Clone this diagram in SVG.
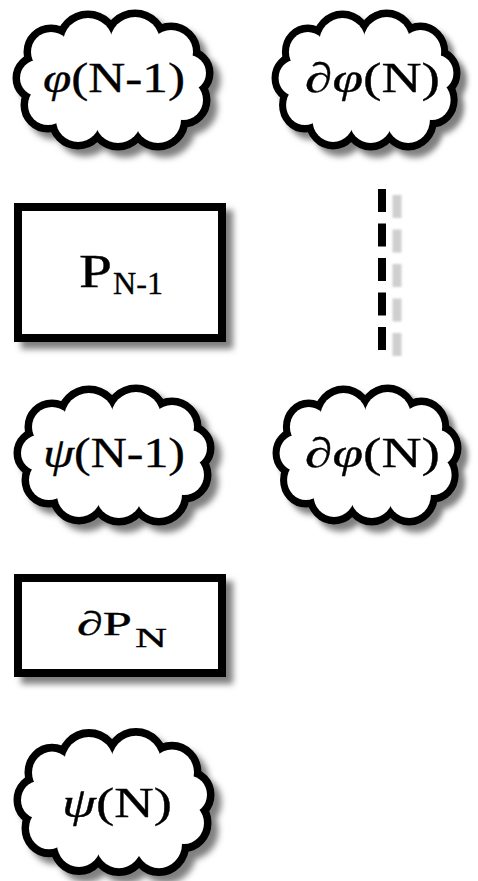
<svg xmlns="http://www.w3.org/2000/svg" xmlns:xlink="http://www.w3.org/1999/xlink" width="478" height="881" viewBox="0 0 478 881">
<style>
.cb circle{fill:none;stroke:#000;stroke-width:15}
.cw circle,.cw ellipse{fill:#fff;stroke:none}
.box{fill:#fff;stroke:#000;stroke-width:8}
.t{font-family:"Liberation Serif","DejaVu Serif",serif;fill:#000;stroke:#000;stroke-width:0.35}
.it{font-style:italic}
</style>
<defs>
<filter id="sh" x="-15%" y="-15%" width="140%" height="140%">
<feDropShadow dx="7" dy="7" stdDeviation="3" flood-color="#000" flood-opacity="0.5"/>
</filter>
<filter id="blur" filterUnits="userSpaceOnUse" x="380" y="180" width="40" height="190">
<feGaussianBlur stdDeviation="0.8"/>
</filter>
<g id="clb" class="cb">
<circle cx="-25" cy="-37" r="25"/>
<circle cx="22" cy="-38" r="25"/>
<circle cx="58" cy="-28" r="22"/>
<circle cx="75" cy="-7" r="18"/>
<circle cx="70" cy="20" r="20"/>
<circle cx="45" cy="40" r="23"/>
<circle cx="5" cy="40" r="23"/>
<circle cx="-35" cy="40" r="22"/>
<circle cx="-65" cy="25" r="20"/>
<circle cx="-75" cy="-2" r="18"/>
<circle cx="-62" cy="-28" r="20"/>
</g>
<g id="clw" class="cw">
<ellipse cx="0" cy="0" rx="70" ry="42"/>
<circle cx="-25" cy="-37" r="25"/>
<circle cx="22" cy="-38" r="25"/>
<circle cx="58" cy="-28" r="22"/>
<circle cx="75" cy="-7" r="18"/>
<circle cx="70" cy="20" r="20"/>
<circle cx="45" cy="40" r="23"/>
<circle cx="5" cy="40" r="23"/>
<circle cx="-35" cy="40" r="22"/>
<circle cx="-65" cy="25" r="20"/>
<circle cx="-75" cy="-2" r="18"/>
<circle cx="-62" cy="-28" r="20"/>
</g>
</defs>
<rect width="478" height="881" fill="#fff"/>

<g id="connectors">
<line x1="397" y1="195" x2="397" y2="356" stroke="#cfcfcf" stroke-width="9" stroke-dasharray="23 11.5" filter="url(#blur)"/>
<line x1="382" y1="189" x2="382" y2="350" stroke="#000" stroke-width="8" stroke-dasharray="23 11.5"/>
</g>

<g id="phi-n-1">
<g transform="translate(113,80)" filter="url(#sh)"><use xlink:href="#clb"/><use xlink:href="#clw"/></g>
<text class="t" x="43" y="92" font-size="42" textLength="142" lengthAdjust="spacingAndGlyphs"><tspan class="it">φ</tspan>(N-1)</text>
</g>

<g id="dphi-n-top">
<g transform="translate(366,80) scale(0.94,1)" filter="url(#sh)"><use xlink:href="#clb"/><use xlink:href="#clw"/></g>
<text class="t" x="305" y="92" font-size="42" textLength="135" lengthAdjust="spacingAndGlyphs"><tspan class="it">∂φ</tspan>(N)</text>
</g>

<g id="p-n-1">
<rect class="box" x="18" y="207" width="204" height="131" filter="url(#sh)"/>
<text class="t" x="79" y="287" font-size="46" textLength="33" lengthAdjust="spacingAndGlyphs">P</text>
<text class="t" x="113" y="294" font-size="32" textLength="50" lengthAdjust="spacingAndGlyphs">N-1</text>
</g>

<g id="psi-n-1">
<g transform="translate(114,455)" filter="url(#sh)"><use xlink:href="#clb"/><use xlink:href="#clw"/></g>
<text class="t" x="43" y="467" font-size="42" textLength="142" lengthAdjust="spacingAndGlyphs"><tspan class="it">ψ</tspan>(N-1)</text>
</g>

<g id="dphi-n-bottom">
<g transform="translate(367,455) scale(0.94,1)" filter="url(#sh)"><use xlink:href="#clb"/><use xlink:href="#clw"/></g>
<text class="t" x="305" y="467" font-size="42" textLength="135" lengthAdjust="spacingAndGlyphs"><tspan class="it">∂φ</tspan>(N)</text>
</g>

<g id="dp-n">
<rect class="box" x="18" y="578" width="204" height="95" filter="url(#sh)"/>
<text class="t" x="77" y="635" font-size="34" textLength="55" lengthAdjust="spacingAndGlyphs"><tspan class="it">∂</tspan>P</text>
<text class="t" x="135" y="647" font-size="27" textLength="32" lengthAdjust="spacingAndGlyphs">N</text>
</g>

<g id="psi-n">
<g transform="translate(114,802) scale(1,1.05)" filter="url(#sh)"><use xlink:href="#clb"/><use xlink:href="#clw"/></g>
<text class="t" x="62" y="817" font-size="43" textLength="110" lengthAdjust="spacingAndGlyphs"><tspan class="it">ψ</tspan>(N)</text>
</g>
</svg>
